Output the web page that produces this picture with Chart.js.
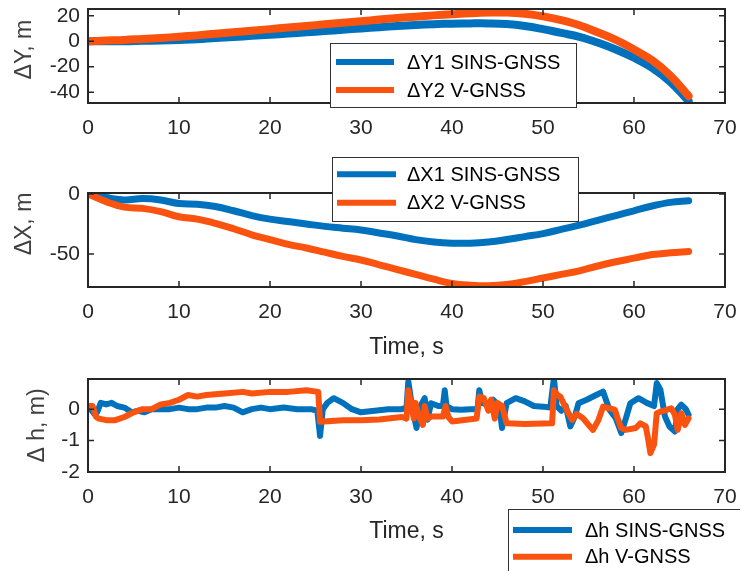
<!DOCTYPE html>
<html>
<head>
<meta charset="utf-8">
<script src="https://cdn.jsdelivr.net/npm/chart.js@4.4.1/dist/chart.umd.min.js"></script>
<style>
  body { margin: 0; background: #fff; overflow: hidden; }
  .box { position: absolute; left: 0; width: 740px; }
</style>
</head>
<body>
<div class="box" style="top:0;height:145px"><canvas id="dy"></canvas></div>
<div class="box" style="top:150px;height:215px"><canvas id="dx"></canvas></div>
<div class="box" style="top:365px;height:206px"><canvas id="dh"></canvas></div>
<script>
// time grid (s) for the position errors
const t = [0, 2, 4, 6, 8, 10, 12, 14, 16, 18, 20, 22, 24, 26, 28, 30, 32, 34,
           36, 38, 40, 42, 44, 46, 48, 50, 52, 54, 56, 58, 60, 62, 64, 66];

// dY, m
const dY1 = [0, 0, 0, 0.3, 0.6, 1, 1.5, 2.5, 3.3, 4.2, 5, 6, 7, 8, 9, 10, 11, 12,
             12.8, 13.4, 13.8, 14, 14, 13.5, 12, 9.5, 6.5, 3.5, -1, -6.5, -13, -21, -32, -47];
const dY2 = [0, 0.5, 1, 1.8, 2.6, 3.5, 4.6, 5.8, 7, 8.3, 9.5, 10.8, 12, 13.3, 14.5, 15.7, 17, 18.2,
             19.3, 20.3, 21.2, 22, 22.5, 22.5, 21.5, 19.5, 16.5, 12.5, 7, 1, -6.5, -15, -27, -43];

// dX, m
const dX1 = [0, -3, -5, -3.8, -5, -8, -8.6, -10.5, -14, -18, -21, -23, -25, -27, -28.5, -30, -32.5, -35,
             -38, -40, -41, -41, -40, -38, -35.5, -33, -29.5, -26, -22, -18, -14, -10, -7, -5.6];
const dX2 = [0, -6.4, -11, -12, -14.7, -19, -21, -24.5, -29, -34, -38, -42, -45, -48.5, -52, -55, -59, -63,
             -67, -71, -74.5, -76, -76.5, -75.5, -73, -70, -67, -64, -60, -56.5, -53.5, -50.5, -49, -48];

// dh, m  (SINS-GNSS)
const h1T = [0, 0.3, 0.7, 1.0, 1.4, 2.0, 2.6, 3.2, 4.0, 4.8, 5.5, 6.2, 7.0, 8.0, 9.0, 10.0, 11.0, 12.0,
             13.0, 14.0, 15.0, 16.0, 17.0, 18.0, 19.0, 20.0, 21.5, 23.0, 24.5, 25.2, 25.5, 25.8, 26.3, 27.0,
             28.0, 29.0, 30.0, 31.5, 33.0, 34.5, 35.0, 35.2, 35.6, 36.1, 36.5, 37.0, 37.3, 37.7, 38.5, 39.0,
             39.2, 39.4, 40.0, 41.0, 42.0, 42.8, 43.0, 43.3, 43.8, 44.5, 45.2, 45.5, 46.0, 47.0, 48.0, 49.0,
             50.0, 50.8, 51.2, 51.5, 52.0, 52.5, 53.0, 53.5, 53.9, 54.8, 55.9, 56.6, 57.3, 58.0, 58.6, 59.1,
             59.6, 60.5, 61.4, 62.2, 62.5, 62.9, 63.4, 63.9, 64.5, 64.8, 65.2, 65.7, 66.0];
const h1 = [0.05, 0.0, -0.15, -0.1, 0.2, 0.15, 0.2, 0.1, 0.05, -0.1, -0.05, -0.1, 0.0, 0.0, 0.0, 0.05, 0.0, 0.0,
            0.05, 0.05, 0.1, 0.05, -0.1, 0.0, 0.05, 0.0, 0.05, 0.0, 0.0, -0.05, -0.85, 0.0, 0.2, 0.35,
            0.2, 0.0, -0.1, -0.05, 0.0, 0.0, 0.05, 0.88, 0.1, -0.6, 0.08, 0.35, -0.34, 0.19, 0.1, 0.1,
            0.6, 0.1, 0.0, -0.02, 0.0, 0.0, 0.6, 0.2, 0.15, 0.3, 0.1, -0.6, 0.19, 0.35, 0.25, 0.1,
            0.08, 0.05, 0.99, 0.1, -0.05, 0.1, -0.55, -0.23, 0.19, 0.3, 0.46, 0.56, -0.02, -0.29, -0.76, -0.3,
            0.19, 0.35, 0.2, 0.1, 0.83, 0.62, -0.23, -0.55, -0.71, 0.0, 0.14, 0.0, -0.18];

// dh, m  (V-GNSS)
const h2T = [0, 0.5, 0.9, 1.2, 2.0, 3.0, 4.0, 5.0, 6.0, 7.0, 8.0, 9.0, 10.0, 11.0, 12.0, 13.0, 15.0, 17.0,
             18.0, 20.0, 22.0, 24.0, 25.3, 25.5, 28.0, 30.0, 32.0, 34.5, 35.0, 35.2, 35.5, 35.8, 36.0, 36.4,
             36.8, 37.0, 37.3, 37.8, 39.0, 39.3, 39.6, 40.0, 42.7, 43.0, 43.5, 44.0, 44.3, 44.7, 45.0, 45.5,
             46.0, 48.0, 51.0, 51.2, 51.6, 51.9, 52.6, 53.2, 53.7, 54.4, 55.0, 55.5, 56.1, 56.6, 57.3, 57.9,
             58.2, 58.6, 59.1, 60.2, 60.7, 61.3, 61.6, 61.8, 62.2, 62.5, 62.9, 63.6, 64.1, 64.5, 64.8, 65.2,
             65.6, 66.0];
const h2 = [0.1, 0.1, -0.25, -0.3, -0.35, -0.35, -0.25, -0.1, 0.0, 0.0, 0.15, 0.2, 0.3, 0.45, 0.4, 0.45, 0.5, 0.55,
            0.5, 0.55, 0.55, 0.6, 0.55, -0.4, -0.35, -0.35, -0.33, -0.25, -0.3, 0.6, 0.19, -0.3, 0.2, -0.25,
            -0.5, 0.1, -0.3, -0.23, -0.23, 0.1, -0.25, -0.39, -0.3, 0.4, 0.35, -0.05, 0.3, -0.3, 0.2, 0.1,
            -0.45, -0.47, -0.45, 0.6, 0.45, 0.4, -0.02, -0.34, -0.15, -0.29, -0.5, -0.66, -0.34, 0.08, 0.03, -0.02,
            -0.29, -0.6, -0.66, -0.6, -0.45, -0.55, -1.03, -1.4, -1.13, -0.13, -0.08, -0.02, 0.03, -0.18, -0.66, -0.13,
            -0.5, -0.29];

const xTicks = [0, 10, 20, 30, 40, 50, 60, 70];
const yTicksY = [-40, -20, 0, 20];
const yTicksX = [-50, 0];
const yTicksH = [-2, -1, 0];

const BLUE = '#0072BD';
const ORANGE = '#F9530F';
const INK = '#262626';

Chart.defaults.font.family = "'Liberation Sans', Arial, sans-serif";
Chart.defaults.color = INK;

const pts = (xs, ys) => xs.map((v, i) => ({x: v, y: ys[i]}));

// matlab style box with inward ticks on all four sides
const boxTicks = {
  id: 'boxTicks',
  afterDatasetsDraw(chart) {
    const {ctx, chartArea: a, scales: {x, y}} = chart;
    ctx.save();
    ctx.strokeStyle = INK;
    ctx.lineWidth = 1.5;
    ctx.beginPath();
    x.ticks.forEach(tk => {
      const px = x.getPixelForValue(tk.value);
      ctx.moveTo(px, a.bottom); ctx.lineTo(px, a.bottom - 6);
      ctx.moveTo(px, a.top); ctx.lineTo(px, a.top + 6);
    });
    y.ticks.forEach(tk => {
      const py = y.getPixelForValue(tk.value);
      ctx.moveTo(a.left, py); ctx.lineTo(a.left + 6, py);
      ctx.moveTo(a.right, py); ctx.lineTo(a.right - 6, py);
    });
    ctx.stroke();
    ctx.lineWidth = 2;
    ctx.strokeRect(a.left, a.top, a.right - a.left, a.bottom - a.top);
    ctx.restore();
  }
};

// boxed legend at a fixed spot, on top of everything
const boxLegend = {
  id: 'boxLegend',
  afterDraw(chart, args, o) {
    const ctx = chart.ctx;
    ctx.save();
    ctx.fillStyle = '#fff';
    ctx.fillRect(o.x, o.y, o.w, o.h);
    ctx.strokeStyle = '#333';
    ctx.lineWidth = 1;
    ctx.strokeRect(o.x + 0.5, o.y + 0.5, o.w, o.h);
    ctx.font = "20px 'Liberation Sans', Arial, sans-serif";
    ctx.textBaseline = 'middle';
    chart.data.datasets.forEach((ds, i) => {
      const ry = o.rows[i];
      ctx.strokeStyle = ds.borderColor;
      ctx.lineWidth = 6;
      ctx.beginPath();
      ctx.moveTo(o.x0, ry); ctx.lineTo(o.x1, ry);
      ctx.stroke();
      ctx.fillStyle = '#000';
      ctx.fillText(ds.label, o.tx, ry + 1);
    });
    ctx.restore();
  }
};

function makeChart(id, cfg) {
  return new Chart(document.getElementById(id), {
    type: 'line',
    data: {
      datasets: [
        {label: cfg.labels[0], data: cfg.s1, borderColor: BLUE, borderWidth: cfg.lw, order: 2},
        {label: cfg.labels[1], data: cfg.s2, borderColor: ORANGE, borderWidth: cfg.lw, order: 1}
      ]
    },
    options: {
      responsive: true,
      maintainAspectRatio: false,
      animation: false,
      parsing: false,
      elements: {point: {radius: 0}, line: {tension: cfg.tension, borderCapStyle: 'round', borderJoinStyle: 'round'}},
      layout: {padding: {top: cfg.padTop, right: 15, left: 0, bottom: 0}},
      scales: {
        x: {
          type: 'linear', min: 0, max: 70,
          afterBuildTicks: s => { s.ticks = xTicks.map(v => ({value: v})); },
          afterFit: s => { s.height = cfg.xh; s.paddingLeft = 0; s.paddingRight = 0; },
          grid: {display: false, drawTicks: false},
          border: {display: false},
          ticks: {padding: 13, maxRotation: 0, autoSkip: false, font: {size: 21}, color: INK},
          title: {display: !!cfg.xTitle, text: cfg.xTitle || '', font: {size: 23}, color: INK,
                  padding: {top: 0, bottom: cfg.xTitlePad || 0}}
        },
        y: {
          type: 'linear', min: cfg.ymin, max: cfg.ymax,
          afterBuildTicks: s => { s.ticks = cfg.yTicks.map(v => ({value: v})); },
          afterFit: s => { s.width = 88; s.paddingTop = 0; s.paddingBottom = 0; },
          grid: {display: false, drawTicks: false},
          border: {display: false},
          ticks: {padding: 8, autoSkip: false, font: {size: 21}, color: INK},
          title: {display: true, text: cfg.yTitle, font: {size: 23}, color: '#404040',
                  padding: {top: cfg.yTitlePad, bottom: 0}}
        }
      },
      plugins: {
        legend: {display: false},
        tooltip: {enabled: false},
        boxLegend: cfg.legend
      }
    },
    plugins: [boxTicks, boxLegend]
  });
}

makeChart('dy', {
  labels: ['ΔY1 SINS-GNSS', 'ΔY2 V-GNSS'],
  s1: pts(t, dY1), s2: pts(t, dY2), lw: 8, tension: 0.4,
  padTop: 9, xh: 42, ymin: -48.5, ymax: 25.3, yTicks: yTicksY,
  yTitle: '  ΔY, m', yTitlePad: 11,
  legend: {x: 330, y: 43, w: 246, h: 64, rows: [62, 90], x0: 336, x1: 394, tx: 407}
});

makeChart('dx', {
  labels: ['ΔX1 SINS-GNSS', 'ΔX2 V-GNSS'],
  s1: pts(t, dX1), s2: pts(t, dX2), lw: 7, tension: 0.4,
  padTop: 43, xh: 78, ymin: -77.5, ymax: 0.8, yTicks: yTicksX,
  yTitle: '     ΔX, m', yTitlePad: 11,
  xTitle: 'Time, s', xTitlePad: 4,
  legend: {x: 332, y: 7, w: 246, h: 64, rows: [24.3, 52.7], x0: 337, x1: 396, tx: 407}
});

makeChart('dh', {
  labels: ['Δh SINS-GNSS', 'Δh V-GNSS'],
  s1: pts(h1T, h1), s2: pts(h2T, h2), lw: 6, tension: 0,
  padTop: 14, xh: 99, ymin: -2, ymax: 0.96, yTicks: yTicksH,
  yTitle: 'Δ h, m)', yTitlePad: 24,
  xTitle: 'Time, s', xTitlePad: 26,
  legend: {x: 508, y: 144, w: 260, h: 80, rows: [165, 191.7], x0: 513, x1: 572, tx: 585}
});
</script>
</body>
</html>
